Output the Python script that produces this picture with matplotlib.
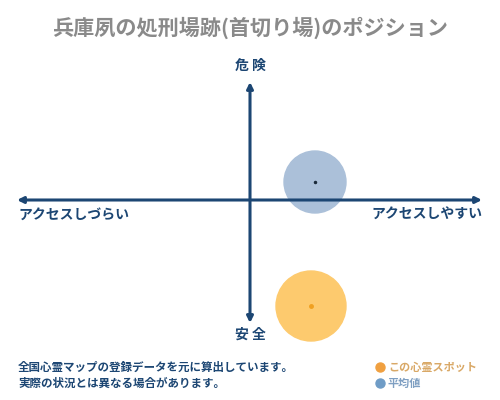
import matplotlib
matplotlib.use("Agg")
import matplotlib.pyplot as plt
from matplotlib.patches import Circle

plt.rcParams['font.family'] = ['Noto Sans CJK JP', 'DejaVu Sans']

title = "兵庫夙の処刑場跡(首切り場)のポジション"
top_label, bottom_label = "危 険", "安 全"
left_label, right_label = "アクセスしづらい", "アクセスしやすい"
notes = ["全国心霊マップの登録データを元に算出しています。",
         "実際の状況とは異なる場合があります。"]
legend_names = ["この心霊スポット", "平均値"]

# positions (access score, danger score) and bubble radii
spot_xy = (61, -106)
spot_r = 35
avg_xy = (65, 18)
avg_r = 31

navy = "#1c4673"
fig = plt.figure(figsize=(5, 4), dpi=100)
ax = fig.add_axes([0, 0, 1, 1])
ax.set_xlim(-250, 250)
ax.set_ylim(-200, 200)
ax.axis("off")

arrow = dict(arrowstyle="<|-|>", color=navy, lw=2.2, mutation_scale=9,
             shrinkA=0, shrinkB=0)
ax.annotate("", xy=(-233, 0), xytext=(232, 0), arrowprops=arrow, zorder=3)
ax.annotate("", xy=(0, 118), xytext=(0, -123), arrowprops=arrow, zorder=3)

ax.add_patch(Circle(avg_xy, avg_r, color="#abc0d9", zorder=2))
ax.plot(*avg_xy, "o", color="#1a2a3a", ms=1.5, zorder=4)
ax.add_patch(Circle(spot_xy, spot_r, color="#fdca6e", zorder=2))
ax.plot(*spot_xy, "o", color="#f0a020", ms=2.5, zorder=4)

ax.text(0, 172, title, ha="center", va="center", fontsize=15.2,
        color="#8a8a8a", fontweight="bold")
ax.text(0, 134, top_label, ha="center", va="center", fontsize=10,
        color=navy, fontweight="bold")
ax.text(0, -135, bottom_label, ha="center", va="center", fontsize=10,
        color=navy, fontweight="bold")
ax.text(-232, -15, left_label, ha="left", va="center", fontsize=10,
        color=navy, fontweight="bold")
ax.text(232, -15, right_label, ha="right", va="center", fontsize=10,
        color=navy, fontweight="bold")

for i, line in enumerate(notes):
    ax.text(-232, -167 - 16 * i, line, ha="left", va="center", fontsize=8.3,
            color=navy, fontweight="bold")

dot_colors = ["#f0a040", "#6f9cc6"]
text_colors = ["#d9a866", "#7f9fc2"]
for i, name in enumerate(legend_names):
    y = -167 - 16 * i
    ax.plot(130, y, "o", color=dot_colors[i], ms=6.5)
    ax.text(138, y, name, ha="left", va="center", fontsize=8,
            color=text_colors[i], fontweight="bold")

fig.savefig("out.png", dpi=100)
